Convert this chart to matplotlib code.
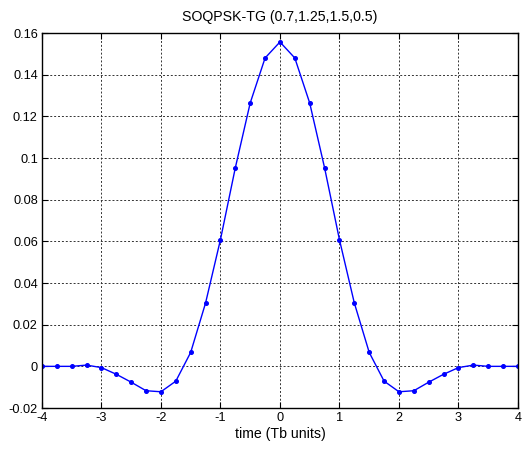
import numpy as np
import matplotlib
matplotlib.use("Agg")
import matplotlib.pyplot as plt

t = [-4, -3.75, -3.5, -3.25, -3, -2.75, -2.5, -2.25, -2, -1.75, -1.5, -1.25, -1, -0.75, -0.5, -0.25,
     0, 0.25, 0.5, 0.75, 1, 1.25, 1.5, 1.75, 2, 2.25, 2.5, 2.75, 3, 3.25, 3.5, 3.75, 4]
h = [0.0, 0.0, 0.0, 0.0006, -0.0006, -0.0038, -0.0076, -0.0117, -0.0122, -0.0071, 0.0067, 0.0304, 0.0608,
     0.0953, 0.1264, 0.1480, 0.1557, 0.1480, 0.1264, 0.0953, 0.0608, 0.0304, 0.0067, -0.0071, -0.0122,
     -0.0117, -0.0076, -0.0038, -0.0006, 0.0006, 0.0, 0.0, 0.0]
title = "SOQPSK-TG (0.7,1.25,1.5,0.5)"
xlabel = "time (Tb units)"
xticks = [-4, -3, -2, -1, 0, 1, 2, 3, 4]
yticks = [-0.02, 0, 0.02, 0.04, 0.06, 0.08, 0.1, 0.12, 0.14, 0.16]
ytick_labels = ["-0.02", "0", "0.02", "0.04", "0.06", "0.08", "0.1", "0.12", "0.14", "0.16"]

plt.rcParams['font.family'] = ['Liberation Sans', 'DejaVu Sans']
fig = plt.figure(figsize=(5.24, 4.51), dpi=100)
ax = fig.add_axes([0.080, 0.0953, 0.9085, 0.8315])
ax.plot(t, h, color='#0000ff', lw=1.0, marker='o', ms=2.6)
ax.set_xlim(-4, 4)
ax.set_ylim(-0.02, 0.16)
ax.set_xticks(xticks)
ax.set_xticklabels([str(v) for v in xticks])
ax.set_yticks(yticks)
ax.set_yticklabels(ytick_labels)
ax.grid(True, color='#333333', linestyle=(0, (2, 2)), linewidth=0.7)
ax.tick_params(direction='in', top=True, right=True, labelsize=9.2, length=4, width=0.8, pad=3)
for s in ax.spines.values():
    s.set_linewidth(1.0)
ax.set_title(title, fontsize=10.2, pad=9)
ax.set_xlabel(xlabel, fontsize=10.2, labelpad=2)
fig.savefig("out.png", dpi=100)
